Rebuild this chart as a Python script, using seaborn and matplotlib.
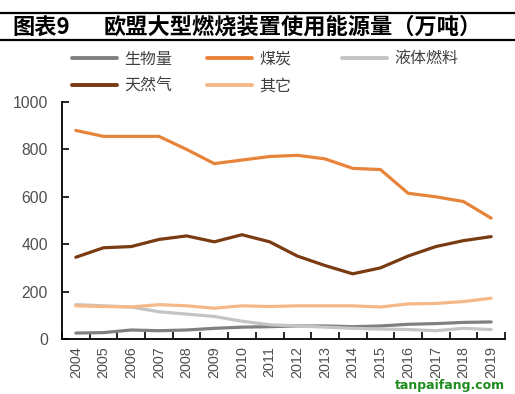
import matplotlib
matplotlib.use("Agg")
import matplotlib.pyplot as plt
import pandas as pd
import seaborn as sns
from matplotlib.lines import Line2D

YEARS = [str(y) for y in range(2004, 2020)]
BIOMASS = [25, 27, 38, 35, 38, 45, 50, 52, 55, 55, 52, 55, 62, 65, 70, 72]
COAL = [880, 855, 855, 855, 800, 740, 755, 770, 775, 760, 720, 715, 615, 600, 580, 510]
LIQUID = [145, 140, 135, 115, 105, 95, 75, 60, 55, 50, 45, 42, 40, 35, 45, 40]
GAS = [345, 385, 390, 420, 435, 410, 440, 410, 350, 310, 275, 300, 350, 390, 415, 432]
OTHER = [140, 137, 135, 145, 140, 130, 140, 137, 140, 140, 140, 135, 148, 150, 158, 172]

SERIES = ["生物量", "煤炭", "液体燃料", "天然气", "其它"]
COLORS = {
    "生物量": "#808080",
    "煤炭": "#E8843A",
    "液体燃料": "#C4C4C4",
    "天然气": "#7A3A12",
    "其它": "#F5B889",
}
LINE_W = 2.3
NUM_FONT = ["Liberation Sans", "DejaVu Sans"]

df = pd.DataFrame({"year": YEARS, "生物量": BIOMASS, "煤炭": COAL,
                   "液体燃料": LIQUID, "天然气": GAS, "其它": OTHER})
long_df = df.melt(id_vars="year", var_name="series", value_name="value")
long_df["x"] = long_df["year"].map({y: i for i, y in enumerate(YEARS)})

sns.set_theme(style="white")
plt.rcParams["font.family"] = ["Noto Sans CJK SC", "DejaVu Sans"]

fig = plt.figure(figsize=(5.15, 3.94), dpi=100)
ax = fig.add_axes([62 / 515, 1 - 339 / 394, 443 / 515, 237 / 394])

sns.lineplot(data=long_df, x="x", y="value", hue="series", hue_order=SERIES,
             palette=COLORS, linewidth=LINE_W, ax=ax, legend=False)

ax.set_xlim(-0.5, len(YEARS) - 0.5)
ax.set_ylim(0, 1000)
ax.set_yticks(range(0, 1001, 200))
ax.set_yticklabels([str(v) for v in range(0, 1001, 200)], family=NUM_FONT,
                   fontsize=11.3, color="#505050")
ax.tick_params(axis="y", length=5, width=1.2, direction="in", left=True,
               color="black", pad=10)
ax.set_xticks(range(len(YEARS)))
ax.set_xticklabels(YEARS, rotation=90, fontsize=10.4, color="#505050", family=NUM_FONT)
ax.set_xticks([i + 0.5 for i in range(-1, len(YEARS))], minor=True)
ax.tick_params(axis="x", which="major", length=0, pad=5)
ax.tick_params(axis="x", which="minor", length=5, width=1.2, direction="in",
               bottom=True, color="black")
for side in ["top", "right"]:
    ax.spines[side].set_visible(False)
for side in ["left", "bottom"]:
    ax.spines[side].set_color("black")
    ax.spines[side].set_linewidth(1.3)
ax.set_xlabel("")
ax.set_ylabel("")
ax.grid(False)

# one legend per column, as in the reference's fixed-width layout
columns = [["生物量", "天然气"], ["煤炭", "其它"], ["液体燃料"]]
col_x = [72, 207, 342]
for names, x0 in zip(columns, col_x):
    handles = [Line2D([0], [0], color=COLORS[s], linewidth=LINE_W + 0.5) for s in names]
    fig.legend(handles, names, loc="upper left", bbox_to_anchor=(x0 / 515, 1 - 51 / 394),
               frameon=False, fontsize=11.5, handlelength=2.8, handletextpad=0.45,
               labelspacing=0.62, borderpad=0, borderaxespad=0, labelcolor="#404040")

fig.text(12 / 515, 1 - 27 / 394, "图表9", fontsize=16, fontweight="bold",
         va="center", ha="left", color="black")
fig.text(104 / 515, 1 - 27 / 394, "欧盟大型燃烧装置使用能源量（万吨）",
         fontsize=16, fontweight="bold", va="center", ha="left", color="black")
fig.add_artist(Line2D([0, 1], [1 - 13 / 394] * 2, color="black", linewidth=1.6))
fig.add_artist(Line2D([0, 1], [1 - 40 / 394] * 2, color="black", linewidth=1.6))

fig.text(505 / 515, 1 - 392 / 394, "tanpaifang.com", fontsize=9, fontweight="bold",
         color="#1E8C1E", ha="right", va="bottom", family=["DejaVu Sans"])

fig.savefig("out.png", dpi=100)
